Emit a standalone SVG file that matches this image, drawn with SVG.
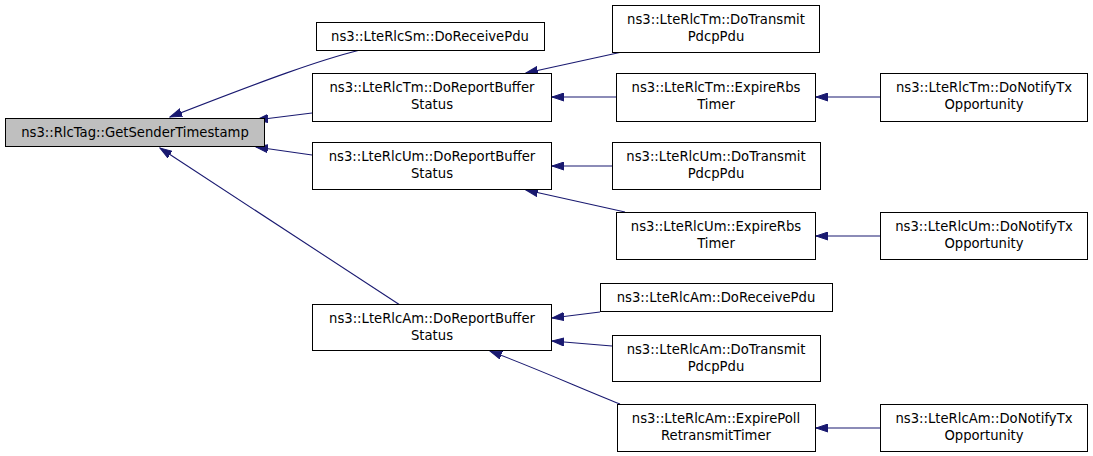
<svg xmlns="http://www.w3.org/2000/svg" width="1093" height="456" viewBox="0 0 1093 456">
<style>
.n rect{fill:#fff;stroke:#000;stroke-width:1}
.root rect{fill:#bfbfbf}
text{font-family:"DejaVu Sans",sans-serif;font-size:13.2px;text-anchor:middle;fill:#000}
.e path{fill:none;stroke:#191970;stroke-width:1.1;marker-end:url(#a)}
</style>
<defs>
<marker id="a" markerUnits="userSpaceOnUse" markerWidth="13" markerHeight="9" refX="12" refY="4.5" orient="auto">
<path d="M0,0.5 L12,4.5 L0,8.5 z" fill="#191970" stroke="#191970"/>
</marker>
</defs>
<rect width="1093" height="456" fill="#fff"/>
<g class="e" id="edges">
<path d="M360,50 C320,60 270,78 170,117"/>
<path d="M312,113 L256,120"/>
<path d="M312,155 L256,147"/>
<path d="M400,305 L160,148"/>
<path d="M622,52 L526,73"/>
<path d="M616,97 L552,97"/>
<path d="M880,97 L816,97"/>
<path d="M612,166 L552,166"/>
<path d="M625,212 L526,190"/>
<path d="M880,236 L816,236"/>
<path d="M600,312 L552,318"/>
<path d="M612,346 L552,341"/>
<path d="M620,404 C580,388 540,370 490,351"/>
<path d="M880,428 L816,428"/>
</g>
<g class="n root" id="root"><rect x="5.5" y="118.5" width="259" height="28"/><text x="135" y="137">ns3::RlcTag::GetSenderTimestamp</text></g>
<g class="n" id="smRecv"><rect x="316.5" y="22.5" width="228" height="28"/><text x="430" y="41">ns3::LteRlcSm::DoReceivePdu</text></g>
<g class="n" id="tmReport"><rect x="312.5" y="73.5" width="239" height="48"/><text x="432" y="92">ns3::LteRlcTm::DoReportBuffer</text><text x="432" y="109">Status</text></g>
<g class="n" id="umReport"><rect x="312.5" y="142.5" width="239" height="47"/><text x="432" y="161">ns3::LteRlcUm::DoReportBuffer</text><text x="432" y="178">Status</text></g>
<g class="n" id="amReport"><rect x="312.5" y="304.5" width="239" height="46"/><text x="432" y="323">ns3::LteRlcAm::DoReportBuffer</text><text x="432" y="340">Status</text></g>
<g class="n" id="tmTransmit"><rect x="612.5" y="5.5" width="207" height="47"/><text x="716" y="24">ns3::LteRlcTm::DoTransmit</text><text x="716" y="41">PdcpPdu</text></g>
<g class="n" id="tmExpire"><rect x="616.5" y="73.5" width="199" height="48"/><text x="716" y="92">ns3::LteRlcTm::ExpireRbs</text><text x="716" y="109">Timer</text></g>
<g class="n" id="tmNotify"><rect x="880.5" y="73.5" width="207" height="48"/><text x="984" y="92">ns3::LteRlcTm::DoNotifyTx</text><text x="984" y="109">Opportunity</text></g>
<g class="n" id="umTransmit"><rect x="612.5" y="142.5" width="208" height="47"/><text x="716" y="161">ns3::LteRlcUm::DoTransmit</text><text x="716" y="178">PdcpPdu</text></g>
<g class="n" id="umExpire"><rect x="616.5" y="212.5" width="199" height="47"/><text x="716" y="231">ns3::LteRlcUm::ExpireRbs</text><text x="716" y="248">Timer</text></g>
<g class="n" id="umNotify"><rect x="880.5" y="212.5" width="207" height="47"/><text x="984" y="231">ns3::LteRlcUm::DoNotifyTx</text><text x="984" y="248">Opportunity</text></g>
<g class="n" id="amRecv"><rect x="600.5" y="283.5" width="232" height="28"/><text x="716" y="302">ns3::LteRlcAm::DoReceivePdu</text></g>
<g class="n" id="amTransmit"><rect x="612.5" y="335.5" width="208" height="46"/><text x="716" y="354">ns3::LteRlcAm::DoTransmit</text><text x="716" y="371">PdcpPdu</text></g>
<g class="n" id="amExpire"><rect x="617.5" y="404.5" width="198" height="47"/><text x="716" y="423">ns3::LteRlcAm::ExpirePoll</text><text x="716" y="440">RetransmitTimer</text></g>
<g class="n" id="amNotify"><rect x="880.5" y="404.5" width="207" height="47"/><text x="984" y="423">ns3::LteRlcAm::DoNotifyTx</text><text x="984" y="440">Opportunity</text></g>
</svg>
